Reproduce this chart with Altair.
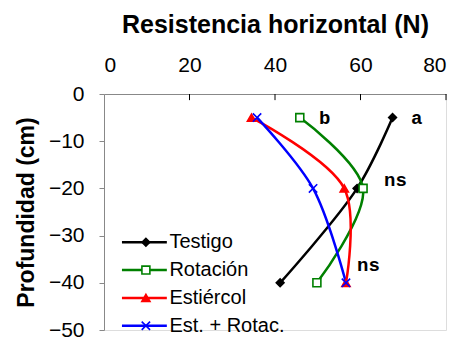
import altair as alt
import pandas as pd

# ---- data ----
series = ["Testigo", "Rotación", "Estiércol", "Est. + Rotac."]
depths = [-5, -20, -40]
testigo = [67.5, 59.2, 41.2]
rotacion = [45.8, 60.6, 49.8]
estiercol = [34.5, 56.2, 56.6]
est_rotac = [35.8, 48.9, 56.6]
values = [testigo, rotacion, estiercol, est_rotac]

colors = ["#000000", "#008000", "#ff0000", "#0000ff"]
fills = ["#000000", "#ffffff", "#ff0000", "transparent"]
shapes = ["diamond", "square", "triangle-up", "M-1,-1L1,1M-1,1L1,-1"]
sizes = [60, 70, 110, 80]

ann_text = ["a", "b", "ns", "ns"]
ann_x = [71.8, 50.3, 65.5, 59.2]
ann_y = [-5, -5, -18.3, -36.2]

x_ticks = [0, 20, 40, 60, 80]
y_ticks = [0, -10, -20, -30, -40, -50]

# ---- tables ----
rows = []
for s, vals in zip(series, values):
    for d, v in zip(depths, vals):
        rows.append({"series": s, "x": v, "y": d})
df = pd.DataFrame(rows)

ann = pd.DataFrame({"t": ann_text, "x": ann_x, "y": ann_y})

leg_top, leg_step = -31.4, -5.9
leg = pd.DataFrame({
    "series": series,
    "y": [leg_top + i * leg_step for i in range(len(series))],
    "x": [4.2] * len(series),
    "x2": [14.7] * len(series),
    "xm": [9.8] * len(series),
    "xt": [15.3] * len(series),
})

ticks_df = pd.DataFrame({"x": x_ticks[1:], "y": [0] * 4, "y2": [-1.3] * 4})

FONT = "Liberation Sans"
x_scale = alt.Scale(domain=[0, 80], nice=False, zero=False)
y_scale = alt.Scale(domain=[-50, 0], nice=False, zero=False)
x_axis = alt.Axis(orient="top", values=x_ticks, title="Resistencia horizontal (N)",
                  tickSize=0, labelPadding=19, titlePadding=17, grid=False,
                  labelFontSize=21, titleFontSize=25)
y_axis = alt.Axis(values=y_ticks, title="Profundidad (cm)", tickSize=5,
                  labelPadding=15, titlePadding=10, grid=False,
                  labelFontSize=21, titleFontSize=23)


def X(f="x"):
    return alt.X(f"{f}:Q", scale=x_scale, axis=x_axis)


def Y(f="y"):
    return alt.Y(f"{f}:Q", scale=y_scale, axis=y_axis)


col = alt.Color("series:N", scale=alt.Scale(domain=series, range=colors), legend=None)
stroke = alt.Stroke("series:N", scale=alt.Scale(domain=series, range=colors), legend=None)
fill = alt.Fill("series:N", scale=alt.Scale(domain=series, range=fills), legend=None)
shape = alt.Shape("series:N", scale=alt.Scale(domain=series, range=shapes), legend=None)
size = alt.Size("series:N", scale=alt.Scale(domain=series, range=sizes), legend=None)

lines = alt.Chart(df).mark_line(interpolate="catmull-rom", strokeWidth=2.5).encode(
    x=X(), y=Y(), color=col, detail="series:N",
    order=alt.Order("y:Q", sort="descending"))

points = alt.Chart(df).mark_point(filled=False, strokeWidth=1.6, opacity=1).encode(
    x=X(), y=Y(), stroke=stroke, fill=fill, shape=shape, size=size)

annot = alt.Chart(ann).mark_text(font="Liberation Mono", fontWeight="bold", fontSize=19,
                                 align="left", baseline="middle", color="black").encode(
    x=X(), y=Y(), text="t:N")

leg_lines = alt.Chart(leg).mark_rule(strokeWidth=2.5).encode(
    x=X(), x2="x2:Q", y=Y(), color=col)
leg_pts = alt.Chart(leg).mark_point(filled=False, strokeWidth=1.6, opacity=1).encode(
    x=X("xm"), y=Y(), stroke=stroke, fill=fill, shape=shape, size=size)
leg_text = alt.Chart(leg).mark_text(font=FONT, fontSize=20, align="left",
                                    baseline="middle", color="black").encode(
    x=X("xt"), y=Y(), text="series:N")

tick_rules = alt.Chart(ticks_df).mark_rule(color="black", strokeWidth=1).encode(
    x=X(), y=Y(), y2="y2:Q")

chart = alt.layer(lines, points, annot, leg_lines, leg_pts, leg_text, tick_rules).properties(
    width=342, height=236,
    padding={"top": 4, "left": 7, "right": 0, "bottom": 0},
).configure_view(stroke=None).configure_axis(
    domainColor="black", tickColor="black", labelColor="black", titleColor="black",
    labelFont=FONT, titleFont=FONT, titleFontWeight="bold", domainWidth=1,
).configure(background="white")

chart.save("out.html", embed_options={"renderer": "svg", "actions": False})
